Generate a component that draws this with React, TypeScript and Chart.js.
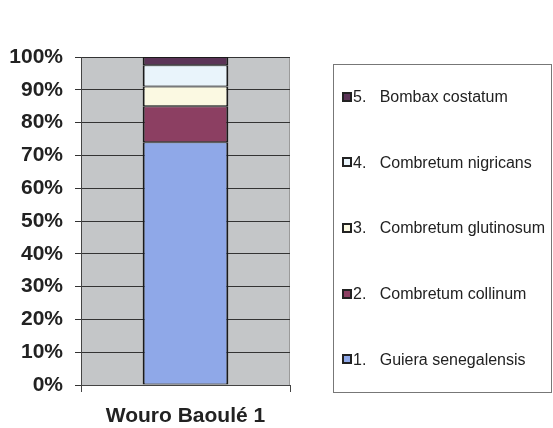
import React, { useEffect, useRef } from "react";
import { Chart, registerables } from "chart.js";

Chart.register(...registerables);

const categories = ["Wouro Baoulé 1"];
const seriesLabels = [
  "1.   Guiera senegalensis",
  "2.   Combretum collinum",
  "3.   Combretum glutinosum",
  "4.   Combretum nigricans",
  "5.   Bombax costatum",
];
const guiera = [74];
const collinum = [11];
const glutinosum = [6];
const nigricans = [6.5];
const bombax = [2.5];
const seriesColors = ["#8fa8e8", "#8c3f62", "#fbf9e2", "#e9f4fb", "#5b3457"];
const yTicks = [0, 10, 20, 30, 40, 50, 60, 70, 80, 90, 100];

const FONT = "'Liberation Sans', Arial, sans-serif";

const plotBg = {
  id: "plotBg",
  beforeDraw(chart: any) {
    const { ctx, chartArea: a } = chart;
    ctx.save();
    ctx.fillStyle = "#c4c6c8";
    ctx.fillRect(a.left, a.top, a.right - a.left, a.bottom - a.top);
    ctx.strokeStyle = "#9a9a9a";
    ctx.lineWidth = 1;
    ctx.beginPath();
    ctx.moveTo(Math.round(a.right) - 0.5, a.top);
    ctx.lineTo(Math.round(a.right) - 0.5, a.bottom);
    ctx.stroke();
    ctx.restore();
  },
};

const boxLegend = {
  id: "boxLegend",
  afterDraw(chart: any) {
    const { ctx, chartArea: a } = chart;
    const left = a.right + 43;
    const right = chart.width - 2;
    const top = a.top + 7;
    const bottom = a.bottom + 7;
    ctx.save();
    ctx.strokeStyle = "#777";
    ctx.lineWidth = 1;
    ctx.strokeRect(Math.round(left) + 0.5, Math.round(top) + 0.5, right - left, bottom - top);
    const ds = chart.data.datasets.slice().reverse();
    const step = (bottom - top) / ds.length;
    ctx.font = `16px ${FONT}`;
    ctx.textBaseline = "middle";
    ctx.textAlign = "left";
    ds.forEach((d: any, k: number) => {
      const cy = top + step * (k + 0.5);
      const sx = Math.round(left) + 9;
      const sy = Math.round(cy - 5);
      ctx.fillStyle = "#222";
      ctx.fillRect(sx, sy, 10, 10);
      ctx.fillStyle = d.backgroundColor;
      ctx.fillRect(sx + 2, sy + 2, 6, 6);
      ctx.fillStyle = "#222";
      ctx.fillText(d.label, sx + 11, cy + 1);
    });
    ctx.restore();
  },
};

export default function App() {
  const ref = useRef<HTMLCanvasElement | null>(null);
  useEffect(() => {
    if (!ref.current) return;
    const values = [guiera, collinum, glutinosum, nigricans, bombax];
    const chart = new Chart(ref.current, {
      type: "bar",
      data: {
        labels: categories,
        datasets: values.map((v, i) => ({
          label: seriesLabels[i],
          data: v,
          backgroundColor: seriesColors[i],
          borderColor: "#1a1a1a",
          borderWidth: { top: 1, bottom: 1, left: 2, right: 2 },
          borderSkipped: false,
          barPercentage: 0.41,
          categoryPercentage: 1,
        })),
      },
      options: {
        animation: false,
        responsive: false,
        maintainAspectRatio: false,
        layout: { padding: { left: 0, right: 263, top: 57, bottom: 0 } },
        plugins: {
          legend: { display: false },
          tooltip: { enabled: false },
        },
        scales: {
          x: {
            stacked: true,
            afterFit(scale: any) {
              scale.height = 43;
            },
            border: { display: true, color: "#444", width: 1 },
            grid: {
              drawOnChartArea: false,
              drawTicks: true,
              tickLength: 7,
              color: "#444",
              offset: true,
            },
            ticks: {
              color: "#222",
              padding: 12,
              font: { family: FONT, size: 21, weight: "bold" },
            },
          },
          y: {
            stacked: true,
            min: 0,
            max: 100,
            afterBuildTicks(scale: any) {
              scale.ticks = yTicks.map((v) => ({ value: v }));
            },
            afterFit(scale: any) {
              scale.width = 81;
            },
            border: { display: true, color: "#444", width: 1 },
            grid: {
              color: "#333",
              lineWidth: 1,
              tickLength: 6,
            },
            ticks: {
              color: "#222",
              padding: 12,
              font: { family: FONT, size: 21, weight: "bold" },
              callback: (v: any) => `${v}%`,
            },
          },
        },
      },
      plugins: [plotBg, boxLegend],
    });
    return () => chart.destroy();
  }, []);
  return (
    <div style={{ position: "absolute", left: 0, top: 0, width: 553, height: 428, background: "#fff" }}>
      <canvas ref={ref} width={553} height={428} style={{ display: "block" }} />
    </div>
  );
}
